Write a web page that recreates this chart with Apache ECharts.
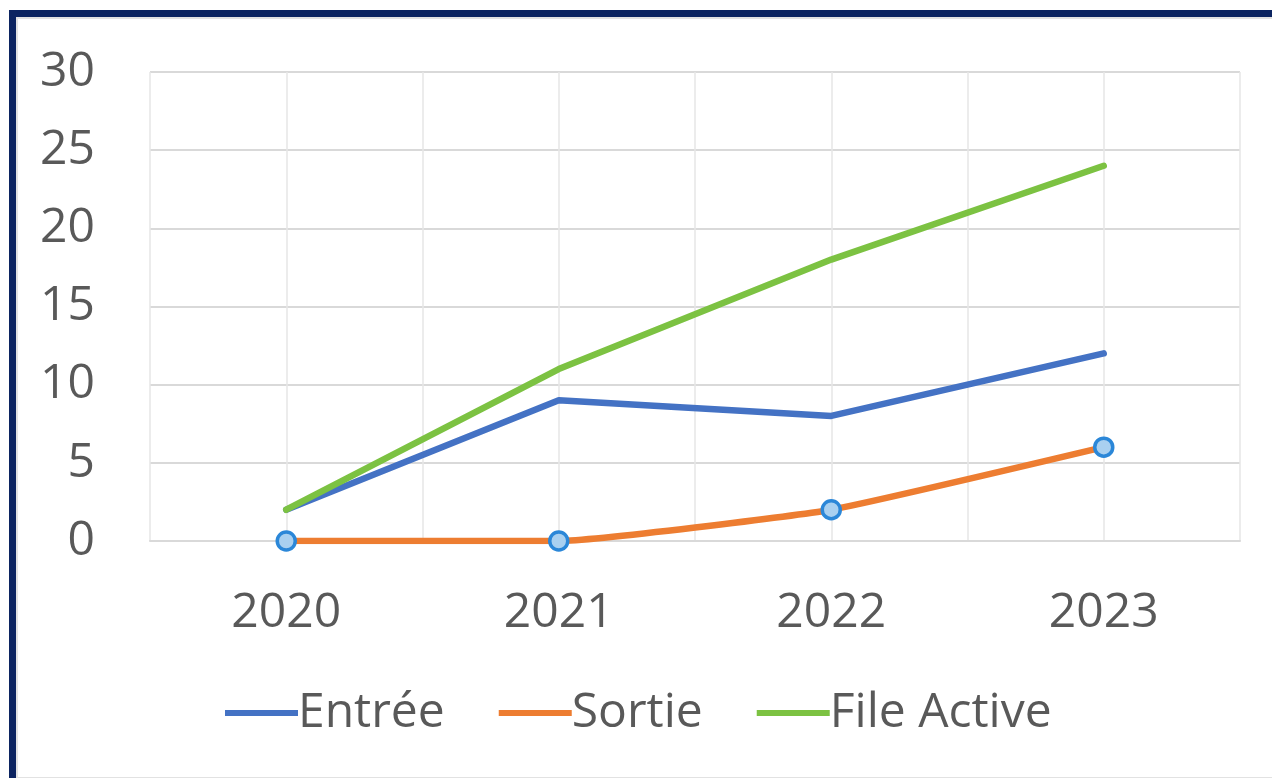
<!DOCTYPE html>
<html>
<head>
<meta charset="utf-8">
<script src="https://cdn.jsdelivr.net/npm/echarts@6/dist/echarts.min.js"></script>
<style>
html,body{margin:0;padding:0;background:#fff;}
#frame{position:absolute;left:9px;top:10px;width:1300px;height:800px;border-left:7px solid #0c2461;border-top:7px solid #0c2461;}
#inner{position:absolute;left:16px;top:17px;width:1300px;height:758px;border-left:2px solid #e2e2e2;border-top:2px solid #e2e2e2;border-bottom:2px solid #e2e2e2;}
#chart{position:absolute;left:0;top:0;width:1272px;height:778px;}
</style>
</head>
<body>
<div id="frame"></div>
<div id="inner"></div>
<div id="chart"></div>
<script>
const categories = ['2020', '2021', '2022', '2023'];
const entree = [2, 9, 8, 12];
const sortie = [0, 0, 2, 6];
const fileActive = [2, 11, 18, 24];
const seriesNames = ['Entrée', 'Sortie', 'File Active'];
const colors = ['#4472C4', '#ED7D31', '#7cc242'];

const chart = echarts.init(document.getElementById('chart'));
const font = '"Open Sans", "Noto Sans", sans-serif';
chart.setOption({
  animation: false,
  backgroundColor: 'transparent',
  grid: {left: 150, right: 32, top: 72, bottom: 237},
  legend: {
    left: 225, top: 689, padding: 0,
    itemWidth: 73, itemHeight: 6, itemGap: 54,
    icon: 'rect',
    textStyle: {fontFamily: font, fontSize: 48, color: '#595959', padding: [0,0,0,-5]},
    data: seriesNames.map((n, i) => ({name: n, itemStyle: {color: colors[i], borderWidth: 0}}))
  },
  xAxis: [{
    type: 'category', data: categories, boundaryGap: true,
    axisLine: {show: true, lineStyle: {color: '#d9d9d9', width: 2}},
    axisTick: {show: false},
    splitLine: {show: false},
    axisLabel: {fontFamily: font, fontSize: 48, color: '#595959', margin: 48}
  }, {
    type: 'value', min: 0, max: 8, interval: 1, position: 'bottom',
    axisLine: {show: false}, axisTick: {show: false}, axisLabel: {show: false},
    splitLine: {show: true, lineStyle: {color: '#e6e6e6', width: 1.5}}
  }],
  yAxis: {
    type: 'value', min: 0, max: 30, interval: 5,
    axisLine: {show: false}, axisTick: {show: false},
    splitLine: {lineStyle: {color: '#d9d9d9', width: 2}},
    axisLabel: {fontFamily: font, fontSize: 48, color: '#595959', margin: 55}
  },
  series: [{
    name: seriesNames[0], type: 'line', data: entree, xAxisIndex: 0,
    symbol: 'none', color: colors[0], lineStyle: {width: 6.5, cap: 'round', join: 'round'}
  }, {
    name: seriesNames[1], type: 'line', data: sortie, xAxisIndex: 0, smooth: 0.12,
    symbol: 'circle', symbolSize: 18, showSymbol: true, color: colors[1],
    itemStyle: {color: '#a9d0f0', borderColor: '#2b87d8', borderWidth: 3.5},
    lineStyle: {width: 6.5, color: colors[1], cap: 'round'},
    z: 3
  }, {
    name: seriesNames[2], type: 'line', data: fileActive, xAxisIndex: 0,
    symbol: 'none', color: colors[2], lineStyle: {width: 6.5, cap: 'round', join: 'round'}
  }]
});
</script>
</body>
</html>
